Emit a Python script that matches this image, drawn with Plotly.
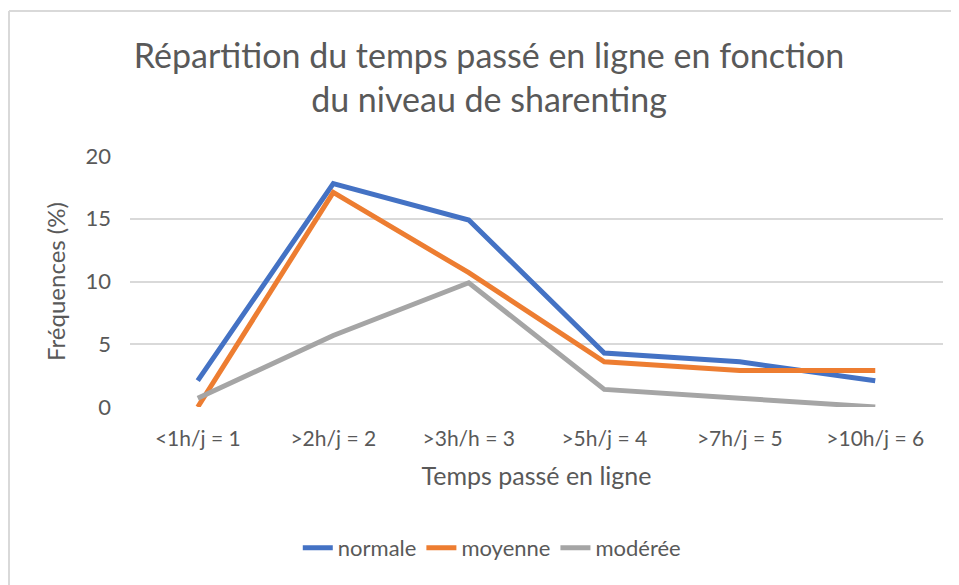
import plotly.graph_objects as go

categories = ["<1h/j = 1", ">2h/j = 2", ">3h/h = 3", ">5h/j = 4", ">7h/j = 5", ">10h/j = 6"]
normale = [2.1, 17.8, 14.9, 4.3, 3.6, 2.1]
moyenne = [0.0, 17.1, 10.7, 3.6, 2.9, 2.9]
moderee = [0.7, 5.7, 9.9, 1.4, 0.7, 0.0]
series_names = ["normale", "moyenne", "modérée"]
colors = ["#4472C4", "#ED7D31", "#A5A5A5"]

# page has an 8px body margin; figure coordinates are page coordinates - 8
OFF = 8
W, H = 951, 577
L, R, T, B = 122, 16, 148, 178
pw, ph = W - L - R, H - T - B

fig = go.Figure()
for name, vals, col in zip(series_names, [normale, moyenne, moderee], colors):
    fig.add_trace(go.Scatter(
        x=list(range(len(categories))), y=vals, name=name, mode="lines",
        line=dict(color=col, width=5), cliponaxis=False,
    ))

font_family = "Lato, 'Open Sans', sans-serif"
txt = "#595959"


def px_to_paper_x(px):
    return (px - OFF - L) / pw


def px_to_paper_y(py):
    return (H - B - (py - OFF)) / ph


fig.add_shape(type="line", xref="paper", yref="paper",
              x0=px_to_paper_x(9), x1=px_to_paper_x(W + 20),
              y0=px_to_paper_y(11), y1=px_to_paper_y(11),
              line=dict(color="#D9D9D9", width=2))
fig.add_shape(type="line", xref="paper", yref="paper",
              x0=px_to_paper_x(9), x1=px_to_paper_x(9),
              y0=px_to_paper_y(11), y1=px_to_paper_y(H + 20),
              line=dict(color="#D9D9D9", width=2))

fig.update_layout(
    width=W, height=H,
    margin=dict(l=L, r=R, t=T, b=B),
    paper_bgcolor="white", plot_bgcolor="white",
    font=dict(family=font_family, color=txt),
    title=dict(
        text="Répartition du temps passé en ligne en fonction<br>du niveau de sharenting",
        x=481 / W, xanchor="center", y=1 - 60 / H, yanchor="middle",
        font=dict(size=34, color=txt, family=font_family),
    ),
    xaxis=dict(
        tickmode="array", tickvals=list(range(len(categories))), ticktext=categories,
        range=[-0.5, len(categories) - 0.5],
        showgrid=False, zeroline=False, showline=False, ticks="",
        tickfont=dict(size=21, color=txt), ticklabelstandoff=17,
        title=dict(text="Temps passé en ligne", font=dict(size=25, color=txt), standoff=18),
    ),
    yaxis=dict(
        range=[0, 20], tickvals=[0, 5, 10, 15, 20],
        showgrid=True, gridcolor="#D9D9D9", gridwidth=2,
        zeroline=False, showline=False, ticks="",
        tickfont=dict(size=22, color=txt), ticklabelstandoff=18,
        title=dict(text="Fréquences (%)", font=dict(size=24, color=txt), standoff=13),
    ),
    legend=dict(
        orientation="h", x=0.445, xanchor="center", y=px_to_paper_y(548), yanchor="middle",
        font=dict(size=22, color=txt), tracegroupgap=0,
        bgcolor="rgba(0,0,0,0)",
    ),
    showlegend=True,
)

fig.write_html("out.html")
